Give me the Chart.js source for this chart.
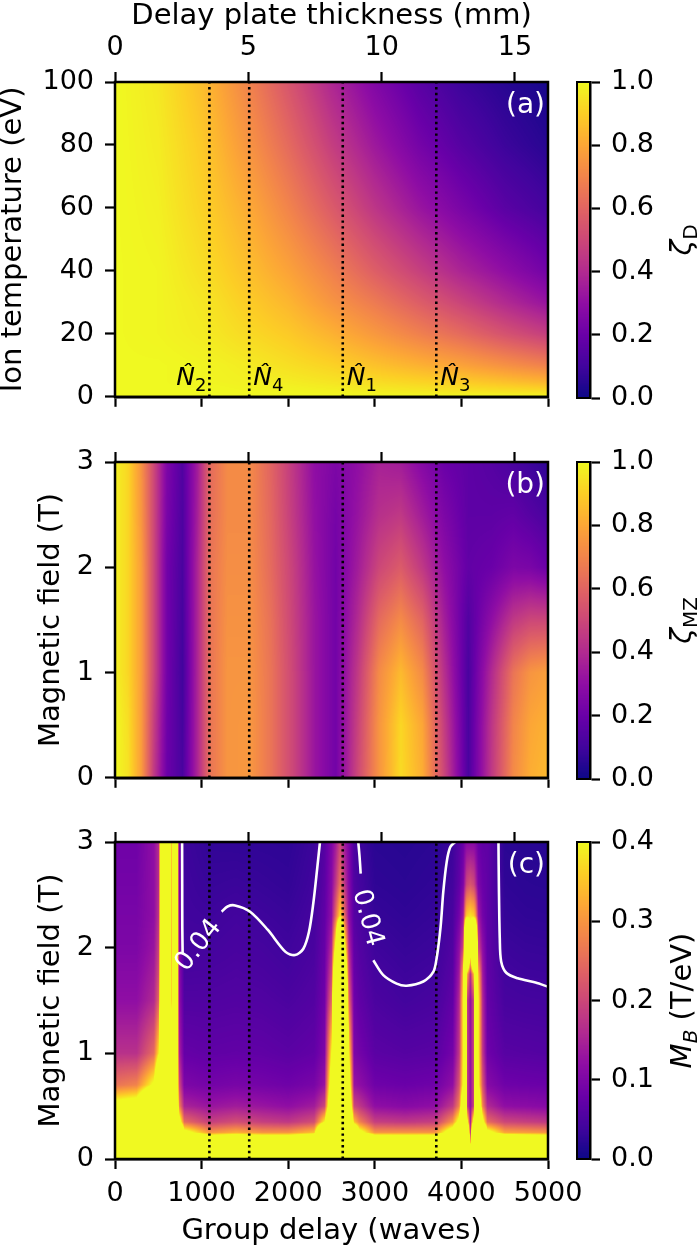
<!DOCTYPE html>
<html>
<head>
<meta charset="utf-8">
<script src="https://cdn.jsdelivr.net/npm/chart.js@4.4.1/dist/chart.umd.min.js"></script>
<style>
  html, body { margin: 0; padding: 0; background: #fff; }
  #fig { position: relative; width: 700px; height: 1247px; overflow: hidden; background: #fff; }
  #fig canvas { position: absolute; }
</style>
</head>
<body>
<div id="fig"></div>
<script>
// ===== data =====
// group delay (waves) of the four delay plates, and their names
const plateMarks = [1090, 1550, 2630, 3710];
const plateNames = ['2', '4', '1', '3'];
const plateNameSide = ['left', 'right', 'right', 'right'];
const plateMmAtFullDelay = 16.24;   // top axis: 5000 waves <-> 16.24 mm
const panelLetters = ['(a)', '(b)', '(c)'];

// (a) zeta_D : one row per ion temperature, one column per delay node
const delayNodesA = [0, 500, 1000, 1500, 2000, 2500, 3000, 3500, 4000, 4500, 5000];
const tempNodesA = [0, 2, 5, 10, 20, 30, 40, 60, 80, 100];
const zetaD = [
  [1, 1, 1, 1, 1, 1, 1, 1, 1, 1, 1],
  [1, 1, 1, 0.99, 0.99, 0.98, 0.97, 0.96, 0.95, 0.94, 0.93],
  [1, 1, 0.99, 0.98, 0.97, 0.95, 0.93, 0.91, 0.89, 0.86, 0.83],
  [1, 1, 0.99, 0.97, 0.94, 0.91, 0.87, 0.83, 0.79, 0.74, 0.69],
  [1, 0.99, 0.97, 0.93, 0.89, 0.83, 0.76, 0.69, 0.62, 0.54, 0.47],
  [1, 0.99, 0.96, 0.9, 0.84, 0.75, 0.67, 0.58, 0.49, 0.4, 0.32],
  [1, 0.99, 0.94, 0.87, 0.79, 0.69, 0.58, 0.48, 0.38, 0.3, 0.22],
  [1, 0.98, 0.91, 0.82, 0.7, 0.57, 0.44, 0.33, 0.24, 0.16, 0.11],
  [1, 0.97, 0.89, 0.76, 0.62, 0.47, 0.34, 0.23, 0.15, 0.09, 0.05],
  [1, 0.96, 0.86, 0.71, 0.55, 0.39, 0.26, 0.16, 0.09, 0.05, 0.02]
];

// (b) zeta_MZ : one row per magnetic field, one column per delay node
const delayNodesB = [0, 150, 300, 450, 600, 780, 950, 1100, 1300, 1550, 1800, 2050, 2300, 2550, 2800, 3050, 3300, 3550, 3800, 4080, 4350, 4600, 4800, 5000];
const fieldNodesB = [0, 0.5, 1, 1.5, 2, 2.5, 3];
const zetaMZ = [
  [1.0, 0.95, 0.78, 0.45, 0.2, 0.12, 0.38, 0.65, 0.75, 0.76, 0.65, 0.5, 0.33, 0.22, 0.5, 0.75, 0.93, 0.82, 0.5, 0.12, 0.45, 0.72, 0.82, 0.85],
  [1.0, 0.94, 0.78, 0.47, 0.21, 0.11, 0.38, 0.65, 0.75, 0.76, 0.65, 0.5, 0.33, 0.22, 0.48, 0.75, 0.92, 0.8, 0.47, 0.12, 0.44, 0.7, 0.8, 0.83],
  [0.98, 0.92, 0.78, 0.5, 0.22, 0.1, 0.38, 0.65, 0.75, 0.75, 0.65, 0.5, 0.33, 0.22, 0.45, 0.72, 0.85, 0.72, 0.42, 0.12, 0.4, 0.65, 0.75, 0.78],
  [0.98, 0.92, 0.78, 0.5, 0.22, 0.11, 0.38, 0.65, 0.74, 0.74, 0.64, 0.49, 0.33, 0.22, 0.4, 0.62, 0.72, 0.6, 0.36, 0.14, 0.3, 0.45, 0.5, 0.5],
  [0.98, 0.92, 0.78, 0.5, 0.22, 0.12, 0.38, 0.65, 0.73, 0.73, 0.62, 0.48, 0.32, 0.22, 0.35, 0.5, 0.57, 0.45, 0.3, 0.18, 0.2, 0.25, 0.24, 0.2],
  [0.98, 0.92, 0.76, 0.5, 0.24, 0.13, 0.36, 0.63, 0.72, 0.72, 0.61, 0.46, 0.31, 0.23, 0.32, 0.42, 0.45, 0.35, 0.25, 0.17, 0.17, 0.18, 0.15, 0.12],
  [0.98, 0.92, 0.75, 0.5, 0.25, 0.14, 0.35, 0.62, 0.72, 0.72, 0.6, 0.45, 0.3, 0.25, 0.3, 0.37, 0.35, 0.27, 0.2, 0.17, 0.15, 0.12, 0.09, 0.06]
];

// (c) M_B (T/eV) : one column per delay node, one entry per magnetic field node
const delayNodesC = [0, 250, 450, 510, 550, 620, 655, 680, 712, 735, 800, 1100, 1400, 1700, 2000, 2300, 2420, 2500, 2550, 2600, 2650, 2700, 2760, 2820, 3000, 3350, 3700, 3900, 3975, 4022, 4045, 4062, 4103, 4145, 4165, 4195, 4245, 4300, 4500, 4750, 5000];
const fieldNodesC = [0, 0.15, 0.25, 0.35, 0.5, 0.7, 1.0, 1.5, 1.75, 2.0, 2.3, 2.6, 3.0];
const mbByDelay = [
  [1, 1, 1, 0.8, 0.45, 0.26, 0.17, 0.12, 0.11, 0.1, 0.095, 0.09, 0.085],
  [1, 1, 1, 0.85, 0.48, 0.28, 0.17, 0.12, 0.11, 0.1, 0.095, 0.09, 0.085],
  [1, 1, 1, 1, 0.8, 0.42, 0.25, 0.16, 0.145, 0.13, 0.12, 0.12, 0.12],
  [1, 1, 1, 1, 1, 0.7, 0.4, 0.25, 0.22, 0.2, 0.18, 0.17, 0.17],
  [1.5, 1.5, 1.5, 1.5, 1.5, 1.5, 1.5, 1.5, 1.5, 1.5, 1.5, 1.5, 1.5],
  [1.5, 1.5, 1.5, 1.5, 1.5, 1.5, 1.2, 1, 1, 1, 1, 1, 1],
  [1.5, 1.5, 1.5, 1.5, 1.5, 1, 0.5, 0.32, 0.31, 0.3, 0.3, 0.3, 0.3],
  [1.5, 1.5, 1.5, 1.5, 1.5, 1.5, 1.2, 1, 1, 1, 1, 1, 1],
  [1.5, 1.5, 1.5, 1.5, 1.5, 1.5, 1.5, 1.5, 1.5, 1.5, 1.5, 1.5, 1.5],
  [1, 1, 0.9, 0.5, 0.3, 0.22, 0.16, 0.13, 0.125, 0.12, 0.11, 0.1, 0.1],
  [1, 1, 0.45, 0.25, 0.15, 0.1, 0.075, 0.055, 0.048, 0.043, 0.04, 0.039, 0.037],
  [1, 0.7, 0.3, 0.19, 0.13, 0.09, 0.07, 0.055, 0.049, 0.043, 0.038, 0.033, 0.028],
  [1, 0.75, 0.33, 0.21, 0.14, 0.095, 0.072, 0.057, 0.052, 0.047, 0.042, 0.035, 0.027],
  [1, 0.7, 0.3, 0.19, 0.13, 0.09, 0.07, 0.055, 0.049, 0.044, 0.038, 0.032, 0.026],
  [1, 0.7, 0.3, 0.18, 0.12, 0.085, 0.065, 0.05, 0.044, 0.039, 0.034, 0.029, 0.025],
  [1, 0.8, 0.35, 0.21, 0.14, 0.095, 0.072, 0.058, 0.053, 0.048, 0.044, 0.04, 0.036],
  [1, 1, 0.9, 0.4, 0.2, 0.13, 0.1, 0.085, 0.08, 0.075, 0.07, 0.065, 0.06],
  [1.5, 1.5, 1.2, 0.8, 0.6, 0.5, 0.4, 0.25, 0.2, 0.16, 0.12, 0.11, 0.1],
  [1.5, 1.5, 1.5, 1.5, 1.5, 1.5, 1.5, 1, 0.7, 0.45, 0.25, 0.18, 0.14],
  [1.5, 1.5, 1.5, 1.5, 1.5, 1.5, 1.5, 1.5, 1.5, 1.2, 0.38, 0.26, 0.2],
  [1.5, 1.5, 1.5, 1.5, 1.5, 1.5, 1.5, 1, 0.7, 0.45, 0.25, 0.18, 0.14],
  [1.5, 1.5, 1.2, 0.8, 0.6, 0.5, 0.4, 0.25, 0.2, 0.16, 0.12, 0.11, 0.1],
  [1, 1, 0.7, 0.35, 0.2, 0.13, 0.1, 0.085, 0.077, 0.07, 0.06, 0.055, 0.05],
  [1, 1, 0.45, 0.28, 0.18, 0.12, 0.09, 0.07, 0.064, 0.058, 0.05, 0.044, 0.038],
  [1, 0.72, 0.3, 0.19, 0.12, 0.085, 0.065, 0.05, 0.044, 0.038, 0.031, 0.026, 0.022],
  [1, 0.7, 0.3, 0.18, 0.11, 0.08, 0.06, 0.042, 0.037, 0.032, 0.027, 0.023, 0.02],
  [1, 0.72, 0.3, 0.19, 0.12, 0.085, 0.063, 0.047, 0.041, 0.036, 0.031, 0.027, 0.023],
  [1, 1, 0.5, 0.3, 0.18, 0.12, 0.09, 0.07, 0.062, 0.055, 0.048, 0.042, 0.036],
  [1.5, 1.5, 0.8, 0.45, 0.28, 0.22, 0.18, 0.16, 0.14, 0.12, 0.09, 0.07, 0.06],
  [1.5, 1.5, 1.5, 1.2, 0.6, 0.42, 0.4, 0.4, 0.35, 0.2, 0.14, 0.1, 0.08],
  [1.5, 1.5, 1.5, 1.5, 1.5, 1.5, 1.5, 1.5, 1.5, 1.0, 0.3, 0.16, 0.1],
  [1.5, 1.5, 1.0, 0.5, 0.2, 0.2, 0.2, 0.2, 0.35, 1.2, 0.36, 0.2, 0.11],
  [1.5, 0.3, 0.15, 0.13, 0.12, 0.12, 0.12, 0.12, 0.16, 0.5, 0.38, 0.22, 0.11],
  [1.5, 1.5, 1.0, 0.5, 0.2, 0.2, 0.2, 0.2, 0.35, 1.2, 0.36, 0.2, 0.11],
  [1.5, 1.5, 1.5, 1.5, 1.5, 1.5, 1.5, 1.5, 1.5, 1.0, 0.3, 0.16, 0.1],
  [1.5, 1.5, 1.5, 1.2, 0.6, 0.42, 0.4, 0.4, 0.35, 0.2, 0.14, 0.1, 0.08],
  [1.5, 1.5, 0.8, 0.45, 0.28, 0.22, 0.18, 0.16, 0.14, 0.12, 0.09, 0.08, 0.07],
  [1, 1, 0.45, 0.25, 0.16, 0.11, 0.085, 0.075, 0.072, 0.07, 0.07, 0.07, 0.07],
  [1, 0.8, 0.32, 0.2, 0.12, 0.085, 0.062, 0.046, 0.041, 0.036, 0.03, 0.026, 0.022],
  [1, 0.75, 0.31, 0.19, 0.115, 0.082, 0.06, 0.044, 0.038, 0.033, 0.027, 0.023, 0.02],
  [1, 0.72, 0.3, 0.18, 0.11, 0.08, 0.058, 0.043, 0.037, 0.032, 0.026, 0.022, 0.019]
];

// (c) 0.04 T/eV contour, [delay, field] pairs, broken where the labels sit
const contourPaths = [
  [[775, 3.0], [776, 2.6], [777, 2.2], [781, 1.95]],
  [[1232, 2.34], [1300, 2.39], [1386, 2.40], [1560, 2.34], [1763, 2.17], [1969, 1.96], [2079, 1.93], [2175, 1.99], [2240, 2.15], [2290, 2.42], [2335, 2.75], [2367, 3.0]],
  [[2809, 3.0], [2825, 2.85], [2837, 2.70]],
  [[2983, 1.88], [3098, 1.74], [3252, 1.66], [3368, 1.64], [3560, 1.68], [3675, 1.77], [3714, 1.90], [3760, 2.2], [3791, 2.53], [3830, 2.81], [3870, 2.95], [3926, 3.0]],
  [[4428, 3.0], [4433, 2.57], [4443, 2.09], [4459, 1.87], [4521, 1.76], [4650, 1.71], [4856, 1.67], [5000, 1.63]]
];
const contourLabels = [
  { text: '0.04', x: 968, y: 2.02, angle: -52 },
  { text: '0.04', x: 2914, y: 2.28, angle: 75 }
];

// ===== style =====
const FONT = 'DejaVu Sans';
Chart.defaults.font.family = FONT;
Chart.defaults.color = '#000';
const tickFont = { family: FONT, size: 27 };
const labelFont = { family: FONT, size: 29 };
const tickGrid = { display: true, drawOnChartArea: false, drawTicks: true, tickLength: 10, tickWidth: 2.2, tickColor: '#000' };
const spine = { display: true, color: '#000', width: 2.5 };

// plasma colormap
const plasmaStops = ['#0d0887', '#41049d', '#6a00a8', '#8f0da4', '#b12a90', '#cc4778', '#e16462', '#f2844b', '#fca636', '#fcce25', '#f0f921'];
const plasmaLut = (() => {
  const rgb = plasmaStops.map(h => [1, 3, 5].map(i => parseInt(h.substr(i, 2), 16)));
  const lut = [];
  for (let i = 0; i < 256; i++) {
    const f = i / 255 * (rgb.length - 1);
    const k = Math.min(Math.floor(f), rgb.length - 2), t = f - k;
    lut.push(rgb[k].map((c, j) => Math.round(c + (rgb[k + 1][j] - c) * t)));
  }
  return lut;
})();
function plasma(u) {
  const i = Math.round(Math.max(0, Math.min(1, u)) * 255);
  return plasmaLut[i];
}

function locate(nodes, v) {
  const n = nodes.length;
  if (v <= nodes[0]) return { k: 0, t: 0 };
  if (v >= nodes[n - 1]) return { k: n - 2, t: 1 };
  let k = 0;
  while (k < n - 2 && v > nodes[k + 1]) k++;
  return { k, t: (v - nodes[k]) / (nodes[k + 1] - nodes[k]) };
}

// draws the gridded field into the plot area, positioned by the chart's own x / y scales
function drawHeat(chart, spec) {
  const { ctx, chartArea: a } = chart;
  const xs = chart.scales.x, ys = chart.scales.y;
  const w = Math.round(a.width), h = Math.round(a.height);
  const off = document.createElement('canvas');
  off.width = w; off.height = h;
  const octx = off.getContext('2d');
  const img = octx.createImageData(w, h);
  const cols = [], rows = [];
  for (let i = 0; i < w; i++) cols.push(locate(spec.xNodes, xs.getValueForPixel(a.left + (i + 0.5) * a.width / w)));
  for (let j = 0; j < h; j++) rows.push(locate(spec.yNodes, ys.getValueForPixel(a.top + (j + 0.5) * a.height / h)));
  const at = spec.byColumn ? (ix, iy) => spec.values[ix][iy] : (ix, iy) => spec.values[iy][ix];
  for (let j = 0; j < h; j++) {
    const r = rows[j];
    for (let i = 0; i < w; i++) {
      const c = cols[i];
      const lo = at(c.k, r.k) * (1 - c.t) + at(c.k + 1, r.k) * c.t;
      const hi = at(c.k, r.k + 1) * (1 - c.t) + at(c.k + 1, r.k + 1) * c.t;
      const v = lo * (1 - r.t) + hi * r.t;
      const col = plasma(v / spec.vmax);
      const p = (j * w + i) * 4;
      img.data[p] = col[0]; img.data[p + 1] = col[1]; img.data[p + 2] = col[2]; img.data[p + 3] = 255;
    }
  }
  octx.putImageData(img, 0, 0);
  ctx.save();
  ctx.imageSmoothingEnabled = true;
  ctx.drawImage(off, a.left, a.top, a.width, a.height);
  ctx.restore();
}

function drawFrame(chart, lw) {
  const { ctx, chartArea: a } = chart;
  ctx.save();
  ctx.strokeStyle = '#000';
  ctx.lineWidth = lw;
  ctx.strokeRect(a.left, a.top, a.width, a.height);
  ctx.restore();
}

function drawRich(ctx, parts, x, y, vertical, color) {
  ctx.save();
  ctx.translate(x, y);
  if (vertical) ctx.rotate(-Math.PI / 2);
  ctx.fillStyle = color || '#000';
  ctx.textBaseline = 'alphabetic';
  ctx.textAlign = 'left';
  const widths = parts.map(p => { ctx.font = p.font; return ctx.measureText(p.text).width; });
  let cx = -widths.reduce((s, v) => s + v, 0) / 2;
  parts.forEach((p, i) => { ctx.font = p.font; ctx.fillText(p.text, cx, p.dy || 0); cx += widths[i]; });
  ctx.restore();
}

function drawLetter(chart, letter) {
  const { ctx, chartArea: a } = chart;
  ctx.save();
  ctx.fillStyle = '#fff';
  ctx.font = `28px "${FONT}"`;
  ctx.textAlign = 'right';
  ctx.textBaseline = 'alphabetic';
  ctx.fillText(letter, a.right - 3, a.top + 31);
  ctx.restore();
}

function drawPlateNames(chart) {
  const { ctx } = chart;
  const xs = chart.scales.x, ys = chart.scales.y;
  const base = ys.getPixelForValue(3.6);
  ctx.save();
  ctx.fillStyle = '#000';
  ctx.textBaseline = 'alphabetic';
  ctx.textAlign = 'left';
  plateMarks.forEach((d, i) => {
    const px = xs.getPixelForValue(d);
    ctx.font = `italic 25px "${FONT}"`;
    const wN = ctx.measureText('N').width;
    ctx.font = `18px "${FONT}"`;
    const wS = ctx.measureText(plateNames[i]).width;
    const left = plateNameSide[i] === 'left' ? px - 3 - (wN + wS) : px + 4;
    ctx.font = `italic 25px "${FONT}"`;
    ctx.fillText('N\u0302', left, base);
    ctx.font = `18px "${FONT}"`;
    ctx.fillText(plateNames[i], left + wN, base + 6);
  });
  ctx.restore();
}

function drawContourLabels(chart) {
  const { ctx } = chart;
  const xs = chart.scales.x, ys = chart.scales.y;
  ctx.save();
  ctx.fillStyle = '#fff';
  ctx.font = `26px "${FONT}"`;
  ctx.textAlign = 'center';
  ctx.textBaseline = 'middle';
  contourLabels.forEach(l => {
    ctx.save();
    ctx.translate(xs.getPixelForValue(l.x), ys.getPixelForValue(l.y));
    ctx.rotate(l.angle * Math.PI / 180);
    ctx.fillText(l.text, 0, 0);
    ctx.restore();
  });
  ctx.restore();
}

// ===== canvases =====
const fig = document.getElementById('fig');
function addCanvas(id, left, top, w, h) {
  const c = document.createElement('canvas');
  c.id = id; c.width = w; c.height = h;
  c.style.left = left + 'px'; c.style.top = top + 'px';
  c.style.width = w + 'px'; c.style.height = h + 'px';
  fig.appendChild(c);
  return c;
}

function markerLines(yMax) {
  return plateMarks.map(d => ({
    data: [{ x: d, y: 0 }, { x: d, y: yMax }],
    showLine: true, borderColor: '#000', borderWidth: 2.6, borderDash: [2.4, 3.4],
    pointRadius: 0, pointHoverRadius: 0
  }));
}

function buildPanel(canvas, p) {
  return new Chart(canvas, {
    type: 'scatter',
    data: { datasets: p.datasets },
    options: {
      responsive: false, animation: false, events: [],
      layout: { padding: { left: p.padLeft, right: 72, top: 0, bottom: 0 } },
      plugins: { legend: { display: false }, tooltip: { enabled: false } },
      scales: {
        x: {
          type: 'linear', position: 'bottom', min: 0, max: 5000,
          ticks: { display: p.delayLabels, stepSize: 1000, font: tickFont, color: '#000', padding: 9, maxRotation: 0, autoSkip: false, includeBounds: false, callback: v => String(v) },
          grid: tickGrid, border: spine,
          title: { display: p.delayLabels, text: 'Group delay (waves)', font: labelFont, color: '#000', padding: 0 },
          afterFit: s => { s.height = p.bottomBox; }
        },
        xTop: {
          type: 'linear', position: 'top', min: 0, max: plateMmAtFullDelay,
          ticks: { display: p.plateLabels, stepSize: 5, font: tickFont, color: '#000', padding: 8, maxRotation: 0, autoSkip: false, includeBounds: false, callback: v => String(v) },
          grid: tickGrid, border: spine,
          title: { display: p.plateLabels, text: 'Delay plate thickness (mm)', font: labelFont, color: '#000', padding: { top: -1, bottom: 0 } },
          afterFit: s => { s.height = p.topBox; }
        },
        y: {
          type: 'linear', position: 'left', min: 0, max: p.yMax,
          ticks: { stepSize: p.yStep, font: tickFont, color: '#000', padding: 11, includeBounds: false, callback: v => String(v) },
          grid: tickGrid, border: spine,
          title: { display: true, text: p.yTitle, font: labelFont, color: '#000', padding: { top: p.titlePad, bottom: 0 } },
          afterFit: s => { s.width = 115 - p.padLeft; }
        }
      }
    },
    plugins: [{
      id: 'heat_' + canvas.id,
      beforeDatasetsDraw(chart) { drawHeat(chart, p.heat); },
      afterDraw(chart) { p.decorate(chart); drawFrame(chart, 2.5); }
    }]
  });
}

function buildColorbar(canvas, cb) {
  return new Chart(canvas, {
    type: 'scatter',
    data: { datasets: [] },
    options: {
      responsive: false, animation: false, events: [],
      layout: { padding: { left: 32, right: 0, top: 30, bottom: 30 } },
      plugins: { legend: { display: false }, tooltip: { enabled: false } },
      scales: {
        x: { display: false, min: 0, max: 1 },
        y: {
          type: 'linear', position: 'right', min: 0, max: cb.max,
          ticks: { stepSize: cb.step, font: tickFont, color: '#000', padding: 11, callback: v => v.toFixed(1) },
          grid: tickGrid, border: spine,
          afterFit: s => { s.width = 155 - 32 - 13; }
        }
      }
    },
    plugins: [{
      id: 'cbar_' + canvas.id,
      afterDraw(chart) {
        const { ctx, chartArea: a } = chart;
        const ys = chart.scales.y;
        for (let j = 0; j < Math.round(a.height); j++) {
          const v = ys.getValueForPixel(a.top + j + 0.5);
          const c = plasma(v / cb.max);
          ctx.fillStyle = `rgb(${c[0]},${c[1]},${c[2]})`;
          ctx.fillRect(a.left, a.top + j, a.width, 1.2);
        }
        drawFrame(chart, 2);
        drawRich(ctx, cb.label, 146, (a.top + a.bottom) / 2, true);
      }
    }]
  });
}

// ----- panel (a)
buildPanel(addCanvas('panelA', 0, 0, 620, 424), {
  padLeft: 0, titlePad: -4, topBox: 82, bottomBox: 26,
  plateLabels: true, delayLabels: false,
  yMax: 100, yStep: 20, yTitle: 'Ion temperature (eV)',
  datasets: markerLines(100),
  heat: { xNodes: delayNodesA, yNodes: tempNodesA, values: zetaD, byColumn: false, vmax: 1 },
  decorate(chart) { drawPlateNames(chart); drawLetter(chart, panelLetters[0]); }
});
buildColorbar(addCanvas('cbarA', 545, 52, 155, 376), {
  max: 1, step: 0.2,
  label: [{ text: 'ζ', font: `italic 29px "${FONT}"` }, { text: 'D', font: `20px "${FONT}"`, dy: 6 }]
});

// ----- panel (b)
buildPanel(addCanvas('panelB', 0, 422, 620, 383), {
  padLeft: 35, titlePad: -1, topBox: 40, bottomBox: 26,
  plateLabels: false, delayLabels: false,
  yMax: 3, yStep: 1, yTitle: 'Magnetic field (T)',
  datasets: markerLines(3),
  heat: { xNodes: delayNodesB, yNodes: fieldNodesB, values: zetaMZ, byColumn: false, vmax: 1 },
  decorate(chart) { drawLetter(chart, panelLetters[1]); }
});
buildColorbar(addCanvas('cbarB', 545, 432, 155, 377), {
  max: 1, step: 0.2,
  label: [{ text: 'ζ', font: `italic 29px "${FONT}"` }, { text: 'MZ', font: `20px "${FONT}"`, dy: 6 }]
});

// ----- panel (c)
const contourSets = contourPaths.map(path => ({
  data: path.map(([x, y]) => ({ x, y })),
  showLine: true, borderColor: '#fff', borderWidth: 2.6, tension: 0.3,
  pointRadius: 0, pointHoverRadius: 0
}));
buildPanel(addCanvas('panelC', 0, 802, 620, 447), {
  padLeft: 35, titlePad: -1, topBox: 40, bottomBox: 90,
  plateLabels: false, delayLabels: true,
  yMax: 3, yStep: 1, yTitle: 'Magnetic field (T)',
  datasets: contourSets.concat(markerLines(3)),
  heat: { xNodes: delayNodesC, yNodes: fieldNodesC, values: mbByDelay, byColumn: true, vmax: 0.4 },
  decorate(chart) { drawContourLabels(chart); drawLetter(chart, panelLetters[2]); }
});
buildColorbar(addCanvas('cbarC', 545, 812, 155, 377), {
  max: 0.4, step: 0.1,
  label: [
    { text: 'M', font: `italic 29px "${FONT}"` },
    { text: 'B', font: `italic 20px "${FONT}"`, dy: 6 },
    { text: ' (T/eV)', font: `29px "${FONT}"` }
  ]
});
</script>
</body>
</html>
